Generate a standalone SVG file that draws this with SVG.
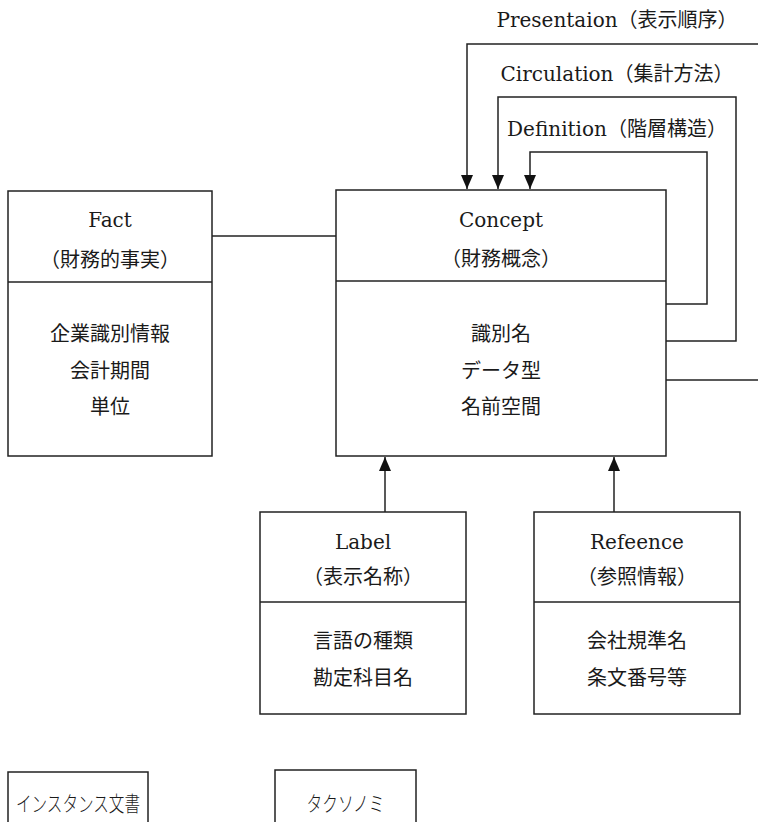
<svg xmlns="http://www.w3.org/2000/svg" width="758" height="822" viewBox="0 0 758 822">
<defs>
<style>
.box{fill:#fff;stroke:#222;stroke-width:1.5}
.ln{fill:none;stroke:#222;stroke-width:1.5}
.t{font-family:"DejaVu Serif","Noto Sans CJK JP",serif;font-size:20px;fill:#1a1a1a;text-anchor:middle}
.j{font-family:"Noto Sans CJK JP",sans-serif;font-size:20px;fill:#1a1a1a;text-anchor:middle}
.s{font-family:"Noto Sans CJK JP",sans-serif;font-size:21px;font-weight:300;fill:#1a1a1a;text-anchor:middle}
</style>
<marker id="ah" viewBox="0 0 14 12" refX="14" refY="6" markerWidth="14" markerHeight="12" markerUnits="userSpaceOnUse" orient="auto">
<path d="M0,0 L14,6 L0,12 Z" fill="#111"/>
</marker>
</defs>
<rect width="758" height="822" fill="#fff"/>
<g id="connectors">
<line class="ln" x1="212" y1="236" x2="336" y2="236"/>
<path class="ln" d="M758,44 H467 V189" marker-end="url(#ah)"/>
<path class="ln" d="M666,380 H758"/>
<path class="ln" d="M666,341 H736 V97 H498 V189" marker-end="url(#ah)"/>
<path class="ln" d="M666,304 H707 V152 H530 V189" marker-end="url(#ah)"/>
<path class="ln" d="M385,512 V457" marker-end="url(#ah)"/>
<path class="ln" d="M614,512 V457" marker-end="url(#ah)"/>
<text class="t" x="617" y="27">Presentaion（表示順序）</text>
<text class="t" x="617" y="81">Circulation（集計方法）</text>
<text class="t" x="617" y="136">Definition（階層構造）</text>
</g>
<g id="fact">
<rect class="box" x="8" y="191" width="204" height="265"/>
<line class="ln" x1="8" y1="282" x2="212" y2="282"/>
<text class="t" x="110" y="227">Fact</text>
<text class="j" x="110" y="267">（財務的事実）</text>
<text class="j" x="110" y="341">企業識別情報</text>
<text class="j" x="110" y="378">会計期間</text>
<text class="j" x="110" y="414">単位</text>
</g>
<g id="concept">
<rect class="box" x="336" y="190" width="330" height="266"/>
<line class="ln" x1="336" y1="281" x2="666" y2="281"/>
<text class="t" x="501" y="227">Concept</text>
<text class="j" x="501" y="266">（財務概念）</text>
<text class="j" x="501" y="341">識別名</text>
<text class="j" x="501" y="378">データ型</text>
<text class="j" x="501" y="414">名前空間</text>
</g>
<g id="label">
<rect class="box" x="260" y="512" width="206" height="202"/>
<line class="ln" x1="260" y1="602" x2="466" y2="602"/>
<text class="t" x="363" y="549">Label</text>
<text class="j" x="363" y="584">（表示名称）</text>
<text class="j" x="363" y="648">言語の種類</text>
<text class="j" x="363" y="685">勘定科目名</text>
</g>
<g id="reference">
<rect class="box" x="534" y="512" width="206" height="202"/>
<line class="ln" x1="534" y1="602" x2="740" y2="602"/>
<text class="t" x="637" y="549">Refeence</text>
<text class="j" x="637" y="584">（参照情報）</text>
<text class="j" x="637" y="648">会社規準名</text>
<text class="j" x="637" y="685">条文番号等</text>
</g>
<g id="instance">
<rect class="box" x="8" y="772" width="140" height="70"/>
<text class="s" x="78" y="811" textLength="124" lengthAdjust="spacingAndGlyphs">インスタンス文書</text>
</g>
<g id="taxonomy">
<rect class="box" x="275" y="770" width="141" height="72"/>
<text class="s" x="345.5" y="811" textLength="78" lengthAdjust="spacingAndGlyphs">タクソノミ</text>
</g>
</svg>
